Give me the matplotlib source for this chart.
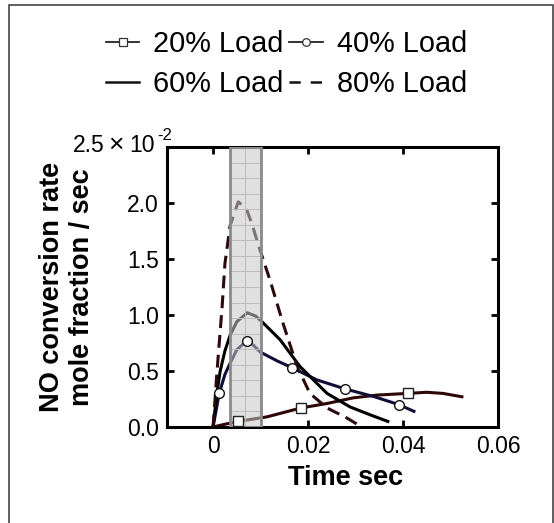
import matplotlib
matplotlib.use("Agg")
import matplotlib.pyplot as plt
from matplotlib.lines import Line2D
from matplotlib.patches import Rectangle

# ---- data (y in units of 1e-2 mole fraction / sec) ----
x20 = [0.0, 0.002, 0.0052, 0.0113, 0.0185, 0.024, 0.0295, 0.0345, 0.041, 0.045, 0.0484, 0.0524]
y20 = [0.0, 0.02, 0.05, 0.09, 0.17, 0.21, 0.26, 0.285, 0.30, 0.31, 0.30, 0.27]
m20 = [2, 4, 8]

x40 = [0.0, 0.0013, 0.0025, 0.0036, 0.005, 0.0071, 0.0085, 0.0099, 0.0135, 0.0166, 0.0219, 0.0278, 0.034, 0.0391, 0.0423]
y40 = [0.0, 0.30, 0.47, 0.57, 0.69, 0.77, 0.73, 0.67, 0.59, 0.53, 0.42, 0.34, 0.27, 0.20, 0.14]
m40 = [1, 5, 9, 11, 13]

x60 = [0.0, 0.0008, 0.0015, 0.0025, 0.0036, 0.005, 0.0072, 0.009, 0.0103, 0.0141, 0.0183, 0.024, 0.0288, 0.033, 0.0368]
y60 = [0.0, 0.30, 0.50, 0.68, 0.82, 0.94, 1.02, 0.99, 0.94, 0.78, 0.54, 0.30, 0.18, 0.11, 0.05]

x80 = [0.0, 0.0008, 0.0019, 0.0025, 0.0036, 0.0053, 0.007, 0.0083, 0.0095, 0.012, 0.0147, 0.0177, 0.0204, 0.024, 0.0282, 0.0313]
y80 = [0.0, 0.48, 1.07, 1.46, 1.80, 2.01, 1.95, 1.80, 1.63, 1.31, 0.93, 0.54, 0.30, 0.17, 0.08, 0.0]

span = [0.0035, 0.0100]
xticks = [0, 0.02, 0.04, 0.06]
xticklabels = ["0", "0.02", "0.04", "0.06"]
yticks = [0.0, 0.5, 1.0, 1.5, 2.0, 2.5]
yticklabels = ["0.0", "0.5", "1.0", "1.5", "2.0", ""]
labels = ["20% Load", "40% Load", "60% Load", "80% Load"]

plt.rcParams['font.family'] = ['Liberation Sans', 'DejaVu Sans']

W, H = 554, 523
fig = plt.figure(figsize=(W / 100, H / 100), dpi=100)
L, R, T, B = 167, 498, 147, 427
ax = fig.add_axes([L / W, 1 - B / H, (R - L) / W, (B - T) / H])

c20 = "#2e0606"
c40 = "#0e0e36"
c60 = "#000000"
c80 = "#2a0a0a"
lw = 2.2
ax.plot(x20, y20, color=c20, lw=lw, zorder=2)
ax.plot(x40, y40, color=c40, lw=lw, zorder=2)
ax.plot(x60, y60, color=c60, lw=lw, zorder=2)
ax.plot(x80, y80, color=c80, lw=lw, ls=(0, (4.2, 2.3)), zorder=2)

# shaded window (semi-transparent, over the lines)
ax.add_patch(Rectangle((span[0], 0), span[1] - span[0], 2.5, facecolor="#c8c8c8",
                       alpha=0.55, edgecolor="none", zorder=3))
nrow = 18
for i in range(1, nrow):
    ax.plot(span, [2.5 * i / nrow] * 2, color="#bcbcbc", lw=0.7, zorder=3.1)
ax.plot([sum(span) / 2] * 2, [0, 2.5], color="#bcbcbc", lw=0.7, zorder=3.1)
ax.add_patch(Rectangle((span[0], 0), span[1] - span[0], 2.5, facecolor="none",
                       edgecolor="#8a8a8a", lw=2.0, zorder=3.2))

ax.plot([x20[i] for i in m20], [y20[i] for i in m20], ls="none", marker="s", ms=6.5,
        mfc="white", mec="#222222", mew=1.0, zorder=4, clip_on=False)
ax.plot([x40[i] for i in m40], [y40[i] for i in m40], ls="none", marker="o", ms=7,
        mfc="white", mec="#111111", mew=1.0, zorder=4, clip_on=False)

ax.set_xlim(-0.0097, 0.06)
ax.set_ylim(0, 2.5)
ax.set_xticks(xticks)
ax.set_xticklabels(xticklabels)
ax.set_yticks(yticks)
ax.set_yticklabels(yticklabels)
ax.tick_params(direction="in", length=5, width=2, labelsize=16.5, top=True, right=True,
               pad=6, colors="black")
for s in ax.spines.values():
    s.set_linewidth(2.2)

lab_font = dict(family=['Liberation Sans'], fontweight='bold', fontsize=19.5)
ax.set_xlabel("Time sec", **lab_font)
ax.xaxis.set_label_coords((346 - L) / (R - L), -(465 - B) / (B - T))
ax.set_ylabel("NO conversion rate\nmole fraction / sec", linespacing=1.22, **lab_font)
ax.yaxis.set_label_coords(-(L - 95) / (R - L), 0.5)

# top tick label with exponent
fs = 16.5
fig.text(73 / W, 1 - 152 / H, "2.5", fontsize=fs, ha="left", va="baseline")
fig.text(108 / W, 1 - 152 / H, "\u00d7", fontsize=19, ha="left", va="baseline")
fig.text(129 / W, 1 - 152 / H, "10", fontsize=fs, ha="left", va="baseline")
fig.text(157 / W, 1 - 140 / H, "-2", fontsize=12, ha="left", va="baseline")

h20 = Line2D([], [], color="#222222", lw=1.3, marker="s", ms=5.5, mfc="white", mec="#333333", mew=0.9)
h40 = Line2D([], [], color="#222222", lw=1.3, marker="o", ms=5.5, mfc="white", mec="#333333", mew=0.9)
h60 = Line2D([], [], color="#111111", lw=1.8)
h80 = Line2D([], [], color="#111111", lw=1.8, ls=(0, (4.5, 4.0)))
fig.legend([h20, h60, h40, h80], [labels[0], labels[2], labels[1], labels[3]], ncol=2,
           loc="center", bbox_to_anchor=(286.5 / W, 1 - 64 / H), numpoints=1,
           frameon=False, fontsize=20.8, handlelength=1.15, handletextpad=0.48,
           columnspacing=0.2, labelspacing=0.42, borderpad=0)

# figure border
fig.add_artist(Rectangle((8.5 / W, -0.05), (553 - 8.5) / W, 1.05 - 5 / H, transform=fig.transFigure,
                         facecolor="none", edgecolor="#444444", lw=1.2))

fig.savefig("out.png", dpi=100)
